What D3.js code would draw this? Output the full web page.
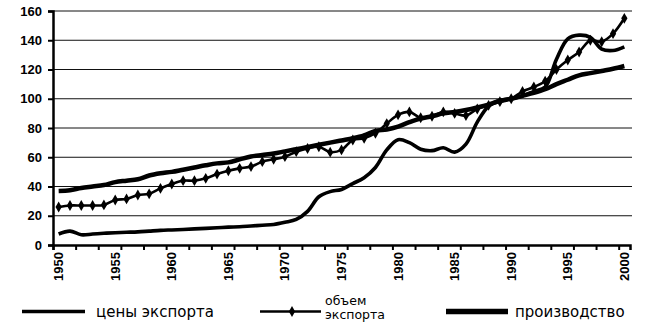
<!DOCTYPE html>
<html>
<head>
<meta charset="utf-8">
<script src="https://cdn.jsdelivr.net/npm/d3@7"></script>
<style>
  html, body { margin: 0; padding: 0; background: #fff; }
  svg { display: block; }
  text { font-family: "Liberation Sans", Arial, sans-serif; fill: #000; }
  .legend text { font-family: "DejaVu Sans", sans-serif; }
</style>
</head>
<body>
<svg id="chart" width="666" height="332"></svg>
<script>
// Years 1950–2000, index 1990 = 100
const years = d3.range(1950, 2001);

const exportPrices = [
  7.5, 9.5, 7, 7.5, 8, 8.4, 8.7, 9, 9.5, 10,
  10.3, 10.6, 11, 11.4, 11.8, 12.2, 12.5, 13, 13.5, 14,
  15.5, 17.5, 23, 33, 36.5, 38, 42, 46, 53, 65,
  72, 70, 65.5, 64.5, 66.5, 63.5, 69, 84, 95, 99,
  100, 102, 105, 108, 127, 141, 143.5, 142, 134, 133,
  135.5
];

const exportVolume = [
  26, 27, 27, 27, 27.4, 30.8, 31.5, 34.2, 35, 38.7,
  41.7, 44, 44, 45.6, 48.5, 50.8, 52.4, 53.6, 57, 58.6,
  60.4, 63.8, 66, 67.2, 63.5, 65, 71.8, 73, 76.4, 83,
  89, 91, 87, 88, 91, 90, 88.5, 93, 95.5, 98,
  100, 105, 108, 112, 120, 126.5, 132, 140, 139, 144.5,
  155
];

const production = [
  37, 37.5, 39, 40, 41, 43, 44, 45, 47.5, 49,
  50, 51.5, 53, 54.5, 55.8, 56.5, 58.5, 60.5, 61.5, 62.5,
  64, 65.5, 67, 68.5, 70, 71.5, 73, 75, 78, 79,
  81, 84, 86.5, 88, 90, 91, 92.3, 94, 96, 98.5,
  100, 102, 104, 106.5, 110, 113, 116, 117.5, 119, 120.5,
  122.4
];

const yTicks = [0, 20, 40, 60, 80, 100, 120, 140, 160];
const xLabelYears = [1950, 1955, 1960, 1965, 1970, 1975, 1980, 1985, 1990, 1995, 2000];

const legendLabels = {
  prices: "цены экспорта",
  volume: ["объем", "экспорта"],
  production: "производство"
};

const svg = d3.select("#chart");

const plot = { left: 53, right: 630, top: 11, bottom: 245 };

// category axis: each year occupies one slot, points sit at slot centres
const x = d3.scaleLinear()
  .domain([years[0] - 0.5, years[years.length - 1] + 0.5])
  .range([plot.left, plot.right]);

const y = d3.scaleLinear()
  .domain([0, 160])
  .range([plot.bottom, plot.top]);

// horizontal gridlines
svg.append("g")
  .selectAll("line")
  .data(yTicks.filter(d => d > 0))
  .join("line")
  .attr("x1", plot.left)
  .attr("x2", plot.right + 2)
  .attr("y1", d => y(d))
  .attr("y2", d => y(d))
  .attr("stroke", "#111")
  .attr("stroke-width", 1);

// y axis
const yAxis = d3.axisLeft(y)
  .tickValues(yTicks)
  .tickSize(5)
  .tickPadding(6)
  .tickFormat(d3.format("d"));

const gy = svg.append("g")
  .attr("transform", `translate(${plot.left},0)`)
  .call(yAxis);
gy.select(".domain").attr("stroke", "#000").attr("stroke-width", 2.5);
gy.selectAll(".tick line").attr("stroke", "#000").attr("stroke-width", 2);
gy.selectAll(".tick text")
  .attr("font-size", 13)
  .attr("font-weight", "bold")
  .style("font-family", "'Liberation Sans', Arial, sans-serif");

// x axis: tick marks every two year slots on the slot boundaries
const boundaryTicks = d3.range(years[0] - 0.5, years[years.length - 1] + 0.6, 2);
const xAxis = d3.axisBottom(x)
  .tickValues(boundaryTicks)
  .tickSize(5)
  .tickFormat("");

const gx = svg.append("g")
  .attr("transform", `translate(0,${plot.bottom})`)
  .call(xAxis);
gx.select(".domain").attr("stroke", "#000").attr("stroke-width", 2.5);
gx.selectAll(".tick line").attr("stroke", "#000").attr("stroke-width", 2);

// rotated year labels
svg.append("g")
  .selectAll("text")
  .data(xLabelYears)
  .join("text")
  .attr("transform", d => `translate(${x(d) + 4.5},${plot.bottom + 7}) rotate(-90)`)
  .attr("text-anchor", "end")
  .attr("font-size", 13)
  .attr("font-weight", "bold")
  .text(d => d);

const line = d3.line()
  .x((d, i) => x(years[i]))
  .y(d => y(d))
  .curve(d3.curveCatmullRom.alpha(0.5));

// production
svg.append("path")
  .datum(production)
  .attr("d", line)
  .attr("fill", "none")
  .attr("stroke", "#000")
  .attr("stroke-width", 4.5)
  .attr("stroke-linejoin", "round");

// export prices
svg.append("path")
  .datum(exportPrices)
  .attr("d", line)
  .attr("fill", "none")
  .attr("stroke", "#000")
  .attr("stroke-width", 3.6)
  .attr("stroke-linejoin", "round");

// export volume with diamond markers
svg.append("path")
  .datum(exportVolume)
  .attr("d", line)
  .attr("fill", "none")
  .attr("stroke", "#000")
  .attr("stroke-width", 2.6)
  .attr("stroke-linejoin", "round");

const diamond = d3.symbol().type(d3.symbolDiamond).size(34);
svg.append("g")
  .selectAll("path")
  .data(exportVolume)
  .join("path")
  .attr("d", diamond)
  .attr("transform", (d, i) => `translate(${x(years[i])},${y(d)})`)
  .attr("fill", "#000");

// legend
const legendY = 311.5;
const lg = svg.append("g").attr("class", "legend");

lg.append("line")
  .attr("x1", 22).attr("x2", 85)
  .attr("y1", legendY).attr("y2", legendY)
  .attr("stroke", "#000").attr("stroke-width", 3.6);
lg.append("text")
  .attr("x", 96).attr("y", legendY + 5)
  .attr("font-size", 15)
  .text(legendLabels.prices);

lg.append("line")
  .attr("x1", 260).attr("x2", 321)
  .attr("y1", legendY).attr("y2", legendY)
  .attr("stroke", "#000").attr("stroke-width", 2.4);
lg.append("path")
  .attr("d", diamond)
  .attr("transform", `translate(292,${legendY})`)
  .attr("fill", "#000");
lg.append("text")
  .attr("x", 325).attr("y", legendY - 7)
  .attr("font-size", 12.5)
  .text(legendLabels.volume[0]);
lg.append("text")
  .attr("x", 325).attr("y", legendY + 7.5)
  .attr("font-size", 12.5)
  .text(legendLabels.volume[1]);

lg.append("line")
  .attr("x1", 446).attr("x2", 508)
  .attr("y1", legendY).attr("y2", legendY)
  .attr("stroke", "#000").attr("stroke-width", 5.5);
lg.append("text")
  .attr("x", 515).attr("y", legendY + 5)
  .attr("font-size", 15)
  .text(legendLabels.production);
</script>
</body>
</html>
